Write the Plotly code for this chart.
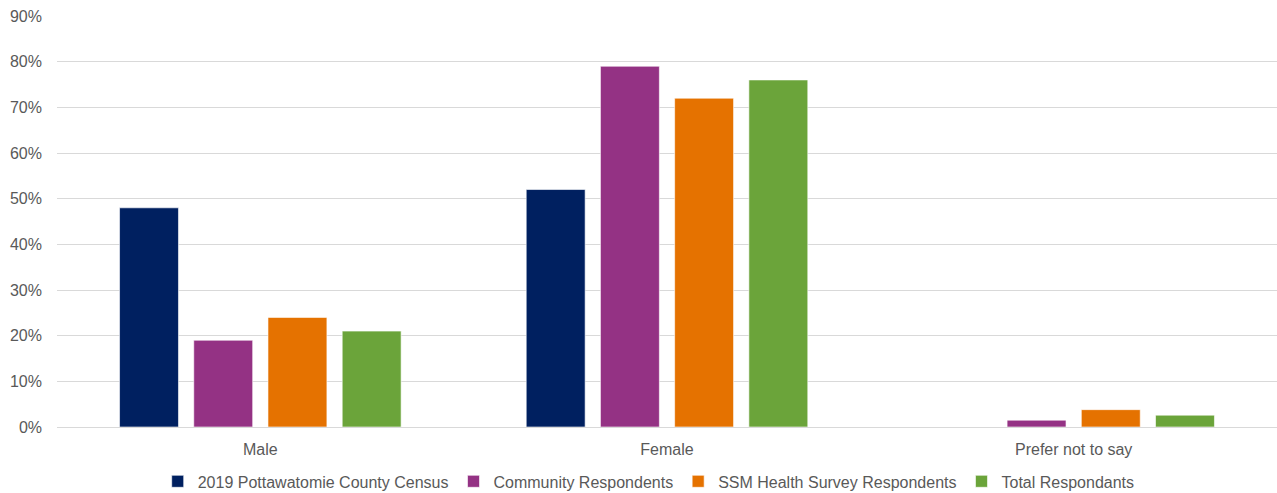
import plotly.graph_objects as go

categories = ["Male", "Female", "Prefer not to say"]

census_2019 = [48, 52, 0]
community = [19, 79, 1.5]
ssm_health = [24, 72, 3.8]
total = [21, 76, 2.6]

series_names = [
    "2019 Pottawatomie County Census",
    "Community Respondents",
    "SSM Health Survey Respondents",
    "Total Respondants",
]
series_values = [census_2019, community, ssm_health, total]
series_colors = ["#002060", "#943284", "#E57200", "#6BA43A"]

y_ticks = list(range(0, 91, 10))
y_tick_labels = [f"{v}%" for v in y_ticks]

FONT = "Liberation Sans"
TEXT_COLOR = "#595959"

fig = go.Figure()
for name, vals, color in zip(series_names, series_values, series_colors):
    fig.add_trace(
        go.Bar(
            x=categories,
            y=vals,
            name=name,
            marker=dict(color=color, line=dict(color="rgba(255,255,255,0.6)", width=1)),
        )
    )

fig.update_layout(
    width=1277,
    height=493,
    margin=dict(l=57, r=0, t=16, b=66, autoexpand=False),
    paper_bgcolor="white",
    plot_bgcolor="white",
    barmode="group",
    bargap=0.27,
    bargroupgap=0.206,
    font=dict(family=FONT, size=16, color=TEXT_COLOR),
    xaxis=dict(
        showgrid=False,
        showline=True,
        linecolor="#d9d9d9",
        linewidth=1,
        ticks="",
        ticklabelstandoff=8,
        tickfont=dict(size=16, color=TEXT_COLOR),
    ),
    yaxis=dict(
        range=[0, 90],
        tickvals=y_ticks,
        ticktext=y_tick_labels,
        showgrid=True,
        gridcolor="#d9d9d9",
        gridwidth=1,
        zeroline=False,
        showline=False,
        ticks="",
        ticklabelstandoff=14,
        tickfont=dict(size=16, color=TEXT_COLOR),
    ),
    legend=dict(
        orientation="h",
        x=0.485,
        xanchor="center",
        y=-0.091,
        yanchor="top",
        font=dict(size=16, color=TEXT_COLOR),
        itemwidth=30,
    ),
)

fig.write_html("out.html")
